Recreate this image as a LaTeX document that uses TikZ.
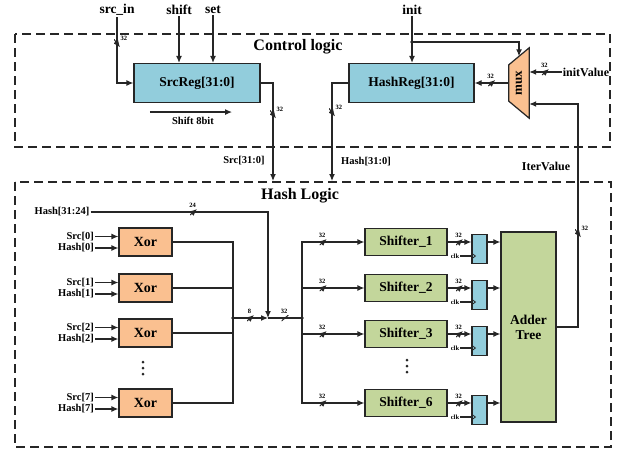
\documentclass[tikz,border=0pt]{standalone}
\usepackage{fontspec}
\setmainfont{Liberation Serif}
\usetikzlibrary{positioning,shapes.geometric,arrows.meta,calc}
\definecolor{regblue}{HTML}{92CDDC}
\definecolor{xorpeach}{HTML}{FAC090}
\definecolor{shgreen}{HTML}{C3D69B}
\definecolor{edge}{HTML}{262626}
\tikzset{
  grp/.style    ={draw=edge, line width=1.2pt, dash pattern=on 9pt off 5pt},
  ttl/.style    ={font=\fontsize{16}{18}\selectfont\bfseries, inner sep=1pt},
  regbox/.style ={rectangle, draw=edge, line width=1.2pt, fill=regblue,
                  font=\fontsize{13.5}{15}\selectfont\bfseries,
                  minimum height=39pt, inner sep=2pt},
  xorbox/.style ={rectangle, draw=edge, line width=1.2pt, fill=xorpeach,
                  font=\fontsize{14}{16}\selectfont\bfseries,
                  minimum width=53pt, minimum height=28pt, inner sep=2pt},
  shbox/.style  ={rectangle, draw=edge, line width=1.2pt, fill=shgreen,
                  font=\fontsize{13.5}{15}\selectfont\bfseries,
                  minimum width=82pt, minimum height=27pt, inner sep=2pt},
  addbox/.style ={shbox, align=center},
  ffbox/.style  ={rectangle, draw=edge, line width=1.2pt, fill=regblue,
                  minimum width=15pt, minimum height=29pt, inner sep=0pt},
  muxbox/.style ={rectangle, minimum width=20pt, minimum height=70pt, inner sep=0pt},
  muxshape/.style={draw=edge, line width=1.2pt, fill=xorpeach},
  muxtxt/.style ={font=\fontsize{13}{15}\selectfont\bfseries, inner sep=0pt},
  sig/.style    ={font=\fontsize{13.5}{15}\selectfont\bfseries, inner sep=1pt},
  sigs/.style   ={font=\fontsize{12}{14}\selectfont\bfseries, inner sep=1pt},
  lbl/.style    ={font=\fontsize{10.5}{12}\selectfont\bfseries, inner sep=1pt},
  clklbl/.style ={font=\fontsize{6.5}{7}\selectfont\bfseries, inner sep=1pt},
  wdt/.style    ={font=\fontsize{6.5}{7}\selectfont\bfseries, inner sep=0.5pt},
  wire/.style   ={draw=edge, line width=1.2pt},
  fl/.style     ={-{Latex[length=7pt,width=6pt]}, draw=edge, line width=1.2pt},
  hbus/.style   ={inner sep=0pt, minimum width=7pt, minimum height=6pt,
                  path picture={\draw[edge, line width=1pt]
                    (path picture bounding box.south west) --
                    (path picture bounding box.north east);},
                  label={[wdt, xshift=-1pt]90:#1}},
  vbus/.style   ={inner sep=0pt, minimum width=6pt, minimum height=8pt,
                  path picture={\draw[edge, line width=1pt]
                    (path picture bounding box.north west) --
                    (path picture bounding box.south east);},
                  label={[wdt, anchor=south west, xshift=-1pt, yshift=-3pt]north east:#1}}
}

\begin{document}
\begin{tikzpicture}[x=1pt,y=-1pt]
  \useasboundingbox (0,0) rectangle (620,450);
  % dashed blocks
  \draw[grp] (15,34) rectangle (610,147);
  \draw[grp] (15,182) rectangle (611,447);
  \node[ttl] (ctltitle) at (298,47) {Control logic};
  \node[ttl] (hashtitle) at (300,196) {Hash Logic};

  % control logic
  \node[regbox,minimum width=126pt] (srcreg) at (197,83) {SrcReg[31:0]};
  \node[regbox,minimum width=125pt] (hashreg) at (411.5,83) {HashReg[31:0]};
  \node[muxbox] (mux) at (519,83) {};
  \draw[muxshape] ([yshift=-17pt]mux.north west) -- (mux.north east)
    -- (mux.south east) -- ([yshift=17pt]mux.south west) -- cycle;
  \node[muxtxt] (muxlbl) at (mux.center) {\rotatebox{90}{mux}};
  \coordinate (muxtop) at ($(mux.north)+(0,8.5)$);

  \node[sig] (srcin) at (117,10) {src\_in};
  \node[sig] (shift) at (179,10) {shift};
  \node[sig] (set) at (213,10) {set};
  \node[sig] (init) at (412,10) {init};
  \draw[fl] (srcin) |- node[pos=0.2,vbus=32]{} (srcreg.west);
  \draw[fl] (shift) -- (shift |- srcreg.north);
  \draw[fl] (set) -- (set |- srcreg.north);

  \node[lbl] (shtxt) at (193,121) {Shift 8bit};
  \draw[fl] ([xshift=-21pt,yshift=4pt]shtxt.north west) -- ([xshift=17pt,yshift=4pt]shtxt.north east);

  \coordinate (srcdn) at (273,181);
  \draw[fl] (srcreg.east) -| node[pos=0.66,vbus=32]{} (srcdn);
  \node[lbl] (srclbl) at (244,161) {Src[31:0]};

  \coordinate (initdot) at (412,42);
  \draw[fl] (init) -- (init |- hashreg.north);
  \draw[fl] (initdot) -| (muxtop);
  \fill[edge] (initdot) circle (1.8pt);

  \draw[fl] (mux.west) -- node[hbus=32]{} (mux.west -| hashreg.east);
  \node[sigs] (initv) at (586,72) {initValue};
  \draw[fl] (initv.west) -- node[hbus=32]{} (initv.west -| mux.east);

  \coordinate (hashdn) at (332,181);
  \draw[fl] (hashreg.west) -| node[pos=0.65,vbus=32]{} (hashdn);
  \node[lbl] (hashlbl) at (366,162) {Hash[31:0]};

  % hash logic
  \coordinate (xbus) at (233,318);
  \coordinate (mrg) at (268,318);
  \coordinate (sbus) at (302,318);
  \node[lbl] (h3124) at (62,212) {Hash[31:24]};
  \draw[fl] (h3124.east) -| node[pos=0.29,hbus=24]{} (mrg);

  \foreach \i/\y in {0/242,1/288,2/333,7/403}{
    \node[xorbox] (x\i) at (145.5,\y) {Xor};
    \node[lbl,anchor=east] (s\i) at (95,\y-5.5) {Src[\i]};
    \node[lbl,anchor=east] (h\i) at (95,\y+6) {Hash[\i]};
    \draw[fl] (s\i.east) -- (s\i.east -| x\i.west);
    \draw[fl] (h\i.east) -- (h\i.east -| x\i.west);
    \draw[wire] (x\i.east) -| (xbus);
  }
  \coordinate (xdots) at (143,368);
  \foreach \d in {-6,0,6}
    \fill[edge] ($(xdots)+(0,\d)$) circle (1.5pt);

  \draw[fl] (xbus) -- node[hbus=8]{} (mrg);
  \draw[wire] (mrg) -- node[hbus=32]{} (sbus);
  \fill[edge] (xbus) circle (1.8pt);
  \fill[edge] (sbus) circle (1.8pt);

  \node[addbox,minimum width=55pt,minimum height=190pt] (adder) at (528.5,327) {Adder\\Tree};
  \foreach \i/\y in {1/242,2/288,3/334,6/403}{
    \node[shbox] (sh\i) at (406,\y) {Shifter\_\i};
    \node[ffbox] (r\i) at (479.5,\y+7) {};
    \node[clklbl] (c\i) at (455,\y+14) {clk};
    \draw[fl] (sbus) |- node[pos=0.67,hbus=32]{} (sh\i.west);
    \draw[fl] (sh\i.east) -- node[hbus=32]{} (sh\i.east -| r\i.west);
    \draw[wire] (c\i.east) -- (c\i.east -| r\i.west);
    \draw[wire,line width=0.8pt] ($(c\i.east -| r\i.west)+(0,-3)$) -- ++(4,3) -- ++(-4,3);
    \draw[fl] (sh\i.east -| r\i.east) -- (sh\i.east -| adder.west);
  }
  \coordinate (sdots) at (407,366);
  \foreach \d in {-6,0,6}
    \fill[edge] ($(sdots)+(0,\d)$) circle (1.5pt);

  \coordinate (iterup) at (578,104);
  \draw[fl] (adder.east) -| node[pos=0.71,vbus=32]{} (iterup) -- (iterup -| mux.east);
  \node[sigs] (iterlbl) at (546,166) {IterValue};
\end{tikzpicture}
\end{document}
